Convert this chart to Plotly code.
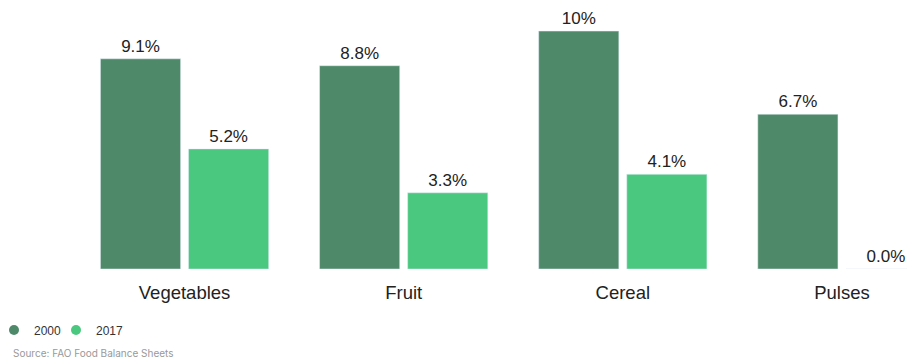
import plotly.graph_objects as go

categories = ["Vegetables", "Fruit", "Cereal", "Pulses"]
share_2000 = [9.1, 8.8, 10.3, 6.7]
share_2017 = [5.2, 3.3, 4.1, 0.0]
series_names = ["2000", "2017"]
colors = ["#4e8a69", "#4bc880"]

fig = go.Figure()
for name, vals, col in zip(series_names, [share_2000, share_2017], colors):
    fig.add_trace(go.Bar(
        x=categories, y=vals, name=name, marker_color=col,
        texttemplate="%{y:.2r}%", textposition="outside",
        textfont=dict(size=17, color="#222222", family="Liberation Sans, Arial"),
        cliponaxis=False, showlegend=False,
    ))
    # circular legend swatches
    fig.add_trace(go.Scatter(
        x=[None], y=[None], mode="markers", name=name,
        marker=dict(symbol="circle", size=10, color=col),
    ))

# blank trailing entry so the last legend label is not cut off
fig.add_trace(go.Scatter(
    x=[None], y=[None], mode="markers", name=" ",
    marker=dict(size=1, color="rgba(0,0,0,0)"),
))

fig.update_layout(
    width=907, height=358,
    margin=dict(l=75, r=0, t=20, b=89, autoexpand=False),
    paper_bgcolor="white", plot_bgcolor="white",
    barmode="group", bargap=0.196, bargroupgap=0.09,
    font=dict(family="Liberation Sans, Arial", color="#222222"),
    xaxis=dict(
        range=[-0.5, 3.297], showgrid=False, zeroline=False, showline=False,
        ticks="outside", ticklen=7, tickcolor="rgba(0,0,0,0)",
        tickfont=dict(size=18.5, color="#222222"),
    ),
    yaxis=dict(range=[0, 10.78], visible=False),
    legend=dict(
        orientation="h", xref="paper", yref="paper",
        x=-81 / 832, y=-61 / 249, xanchor="left", yanchor="middle",
        font=dict(size=12, color="#333333"), itemwidth=30,
        entrywidth=17, tracegroupgap=0, bgcolor="rgba(0,0,0,0)",
    ),
    annotations=[dict(
        text="Source: FAO Food Balance Sheets", xref="paper", yref="paper",
        x=-64 / 832, y=-84 / 249, xanchor="left", yanchor="middle", showarrow=False,
        font=dict(size=10, color="#999999", family="Inter, Liberation Sans"),
    )],
)

fig.write_html("out.html")
